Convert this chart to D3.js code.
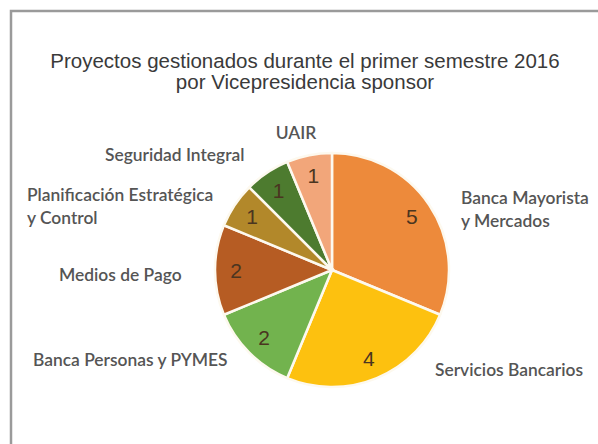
<!DOCTYPE html>
<html><head><meta charset="utf-8">
<script src="https://cdn.jsdelivr.net/npm/d3@7"></script>
<style>body{margin:0;background:#fff}</style>
</head><body>
<script>
const categories = ["Banca Mayorista y Mercados","Servicios Bancarios","Banca Personas y PYMES","Medios de Pago","Planificación Estratégica y Control","Seguridad Integral","UAIR"];
const values = [5,4,2,2,1,1,1];
const colors = ["#ED8A3B","#FDC10F","#72B34E","#B65C23","#B2882A","#4D7B2F","#F2A67A"];
const titleLines = ["Proyectos gestionados durante el primer semestre 2016","por Vicepresidencia sponsor"];
// outer label lines and anchor positions
const labelLines = [["Banca Mayorista","y Mercados"],["Servicios Bancarios"],["Banca Personas y PYMES"],["Medios de Pago"],["Planificación Estratégica","y Control"],["Seguridad Integral"],["UAIR"]];
const labelPos = [[461,204,"start"],[435,376,"start"],[33,366,"start"],[59,281,"start"],[27,201,"start"],[105,161,"start"],[296,139,"middle"]];

const W=598,H=444;
const svg=d3.select("body").append("svg").attr("width",W).attr("height",H);
svg.append("rect").attr("x",11).attr("y",11).attr("width",W).attr("height",H).attr("fill","#fff").attr("stroke","#9a9a9a").attr("stroke-width",2.5);

const t=svg.append("text").attr("x",305).attr("y",68).attr("text-anchor","middle")
 .attr("font-family","Liberation Sans, Arial, sans-serif").attr("font-size",20.5).attr("fill","#3a3a3a");
titleLines.forEach((l,i)=>t.append("tspan").attr("x",305).attr("dy",i?21:0).text(l));

const cx=332,cy=270,R=117;
const pie=d3.pie().sort(null).value(d=>d)(values);
const arc=d3.arc().innerRadius(0).outerRadius(R);
const g=svg.append("g").attr("transform",`translate(${cx},${cy})`);
g.selectAll("path").data(pie).join("path").attr("d",arc).attr("fill",(d,i)=>colors[i]).attr("stroke","#fdf9ef").attr("stroke-width",2.5);
const lab=d3.arc().innerRadius(96).outerRadius(96);
g.selectAll("text.v").data(pie).join("text").attr("class","v")
 .attr("x",d=>lab.centroid(d)[0]).attr("y",d=>lab.centroid(d)[1]).attr("dy","0.36em")
 .attr("text-anchor","middle").attr("font-family","Liberation Sans, Arial, sans-serif").attr("font-size",21)
 .attr("fill","#4a3520").text(d=>d.data);

labelLines.forEach((lines,i)=>{
  const [x,y,a]=labelPos[i];
  const tx=svg.append("text").attr("x",x).attr("y",y).attr("text-anchor",a)
   .attr("font-family","Lato, sans-serif").attr("font-size",17.4).attr("font-weight",600).attr("fill","#555");
  lines.forEach((l,j)=>tx.append("tspan").attr("x",x).attr("dy",j?23:0).text(l));
});
</script>
</body></html>
